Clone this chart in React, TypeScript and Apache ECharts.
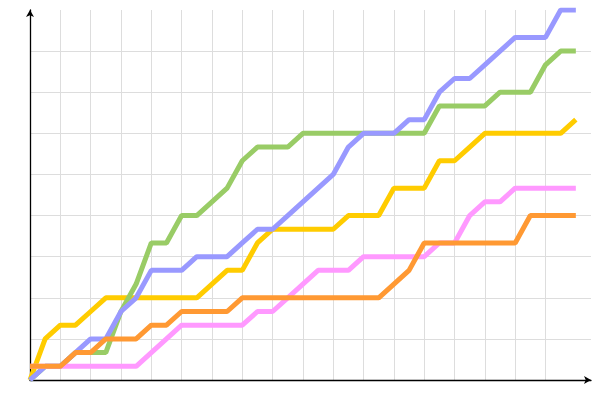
import React, { useEffect, useRef } from "react";
import * as echarts from "echarts";

// one value every half grid step, 37 steps along x
const yellow = [0, 3, 4, 4, 5, 6, 6, 6, 6, 6, 6, 6, 7, 8, 8, 10, 11, 11, 11, 11, 11, 12, 12, 12, 14, 14, 14, 16, 16, 17, 18, 18, 18, 18, 18, 18, 19];
const green = [0, 1, 1, 2, 2, 2, 5, 7, 10, 10, 12, 12, 13, 14, 16, 17, 17, 17, 18, 18, 18, 18, 18, 18, 18, 18, 18, 20, 20, 20, 20, 21, 21, 21, 23, 24, 24];
const blue = [0, 1, 1, 2, 3, 3, 5, 6, 8, 8, 8, 9, 9, 9, 10, 11, 11, 12, 13, 14, 15, 17, 18, 18, 18, 19, 19, 21, 22, 22, 23, 24, 25, 25, 25, 27, 27];
const pink = [1, 1, 1, 1, 1, 1, 1, 1, 2, 3, 4, 4, 4, 4, 4, 5, 5, 6, 7, 8, 8, 8, 9, 9, 9, 9, 9, 10, 10, 12, 13, 13, 14, 14, 14, 14, 14];
const orange = [1, 1, 1, 2, 2, 3, 3, 3, 4, 4, 5, 5, 5, 5, 6, 6, 6, 6, 6, 6, 6, 6, 6, 6, 7, 8, 10, 10, 10, 10, 10, 10, 10, 12, 12, 12, 12];

const seriesList = [
  { name: "yellow", values: yellow, color: "#ffcc00" },
  { name: "green", values: green, color: "#99cc66" },
  { name: "blue", values: blue, color: "#9999ff" },
  { name: "pink", values: pink, color: "#ff99ff" },
  { name: "orange", values: orange, color: "#ff9933" },
];

const gridColor = "#dddddd";
const none = "rgba(0,0,0,0)";

const App: React.FC = () => {
  const chartRef = useRef<HTMLDivElement>(null);

  useEffect(() => {
    if (!chartRef.current) return;
    const chart = echarts.init(chartRef.current, undefined, { renderer: "svg" });

    const axisLine = {
      show: true,
      symbol: ["none", "arrow"],
      symbolSize: [6, 7],
      lineStyle: { color: "#000", width: 1.3 },
    };

    chart.setOption({
      animation: false,
      grid: { left: 30, right: 9, top: 10, bottom: 20, containLabel: false },
      xAxis: {
        type: "value",
        min: 0,
        max: 37,
        interval: 2,
        axisLine,
        axisTick: { show: false },
        axisLabel: { show: false },
        splitLine: {
          show: true,
          lineStyle: { color: [...Array(18).fill(gridColor), none, none], width: 1 },
        },
      },
      yAxis: {
        type: "value",
        min: 0,
        max: 27,
        interval: 3,
        axisLine,
        axisTick: { show: false },
        axisLabel: { show: false },
        splitLine: {
          show: true,
          lineStyle: { color: [...Array(9).fill(gridColor), none], width: 1 },
        },
      },
      series: seriesList.map((s) => ({
        name: s.name,
        type: "line",
        data: s.values.map((v, i) => [i, v]),
        showSymbol: false,
        symbol: "none",
        lineStyle: { color: s.color, width: 5 },
        itemStyle: { color: s.color },
      })),
    });

    return () => chart.dispose();
  }, []);

  return (
    <div
      ref={chartRef}
      style={{ position: "fixed", left: 0, top: 0, width: "600px", height: "400px" }}
    />
  );
};

export default App;
